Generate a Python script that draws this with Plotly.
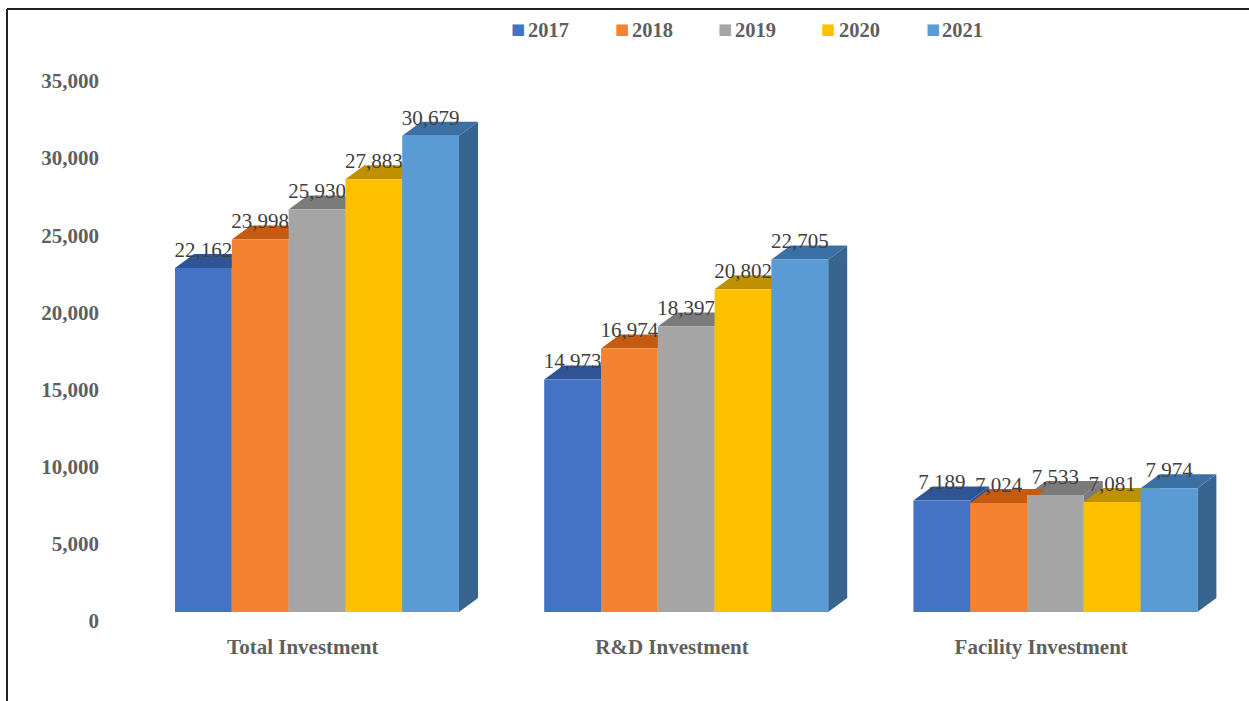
import plotly.graph_objects as go

categories = ["Total Investment", "R&D Investment", "Facility Investment"]
years = ["2017", "2018", "2019", "2020", "2021"]
v2017 = [22162, 14973, 7189]
v2018 = [23998, 16974, 7024]
v2019 = [25930, 18397, 7533]
v2020 = [27883, 20802, 7081]
v2021 = [30679, 22705, 7974]
series = [v2017, v2018, v2019, v2020, v2021]
y_ticks = [0, 5000, 10000, 15000, 20000, 25000, 30000, 35000]

front = ["#4472C4", "#F58230", "#A5A5A5", "#FFC000", "#5B9BD5"]
top = ["#2F5597", "#C55A11", "#7B7B7B", "#BF9000", "#3A70A3"]
side = ["#2F5597", "#C55A11", "#7B7B7B", "#BF9000", "#37658F"]

W, H = 1249, 701
L, R, T, B = 100, 1240, 60, 632
BAR_PX = 56.8
BAR_LEFT = 175
X0 = 612
K = 0.01552            # px per unit, bars
K_T = 0.01543          # px per unit, tick labels
TICK0 = 621
GROUP_STEP = 6.5
DX = 19 / BAR_PX
DY = 14 / K
LABEL_DY = 16.5 / K


def px_x(p):
    return (p - L) / (R - L)


def px_y(p):
    return (B - p) / (B - T)


fig = go.Figure()


def bar_x(g, i):
    return g * GROUP_STEP + i


# sides first
for i in reversed(range(len(years))):
    for g, v in enumerate(series[i]):
        x = bar_x(g, i)
        fig.add_trace(go.Scatter(
            x=[x + 1, x + 1 + DX, x + 1 + DX, x + 1, x + 1],
            y=[0, DY, v + DY, v, 0],
            mode="lines", fill="toself", fillcolor=side[i], line=dict(width=0),
            hoverinfo="skip", showlegend=False))

# then tops, right-most first
for i in reversed(range(len(years))):
    for g, v in enumerate(series[i]):
        x = bar_x(g, i)
        fig.add_trace(go.Scatter(
            x=[x, x + DX, x + 1 + DX, x + 1, x],
            y=[v, v + DY, v + DY, v, v],
            mode="lines", fill="toself", fillcolor=top[i], line=dict(width=0),
            hoverinfo="skip", showlegend=False))

# data labels
for i in range(len(years)):
    fig.add_trace(go.Scatter(
        x=[bar_x(g, i) + 0.5 for g in range(len(categories))],
        y=[v + LABEL_DY for v in series[i]],
        text=[f"{v:,}" for v in series[i]],
        mode="text", textposition="middle center",
        textfont=dict(family="Liberation Serif", size=21, color="#404040"),
        hoverinfo="skip", showlegend=False))

# front faces
for i in range(len(years)):
    for g, v in enumerate(series[i]):
        x = bar_x(g, i)
        fig.add_trace(go.Scatter(
            x=[x, x + 1, x + 1, x, x], y=[0, 0, v, v, 0],
            mode="lines", fill="toself", fillcolor=front[i], line=dict(width=0),
            name=years[i], hoverinfo="x+y", showlegend=False))

# carrier for the tick-label axis
fig.add_trace(go.Scatter(x=[None], y=[None], yaxis="y2", showlegend=False, hoverinfo="skip"))

# legend
swatch_px = [509, 613, 716, 819, 924]
text_px = [526, 630, 733, 837, 940]
for i, yr in enumerate(years):
    fig.add_annotation(
        xref="paper", yref="paper", x=px_x(swatch_px[i]), y=px_y(29),
        xanchor="left", yanchor="middle", showarrow=False, text="■",
        font=dict(family="DejaVu Sans", size=15, color=front[i]))
    fig.add_annotation(
        xref="paper", yref="paper", x=px_x(text_px[i]), y=px_y(30),
        xanchor="left", yanchor="middle", showarrow=False, text=f"<b>{yr}</b>",
        font=dict(family="Liberation Serif", size=20.5, color="#5f5f5f"))

# frame
line = dict(color="#222222", width=2)
fig.add_shape(type="line", xref="paper", yref="paper",
              x0=px_x(7), x1=px_x(1249), y0=px_y(9), y1=px_y(9), line=line)
fig.add_shape(type="line", xref="paper", yref="paper",
              x0=px_x(7), x1=px_x(7), y0=px_y(9), y1=px_y(701), line=line)

fig.update_layout(
    width=W, height=H, margin=dict(l=L, r=W - R, t=T, b=H - B),
    paper_bgcolor="white", plot_bgcolor="white", showlegend=False,
    xaxis=dict(
        range=[(L - BAR_LEFT) / BAR_PX, (R - BAR_LEFT) / BAR_PX],
        tickmode="array",
        tickvals=[g * GROUP_STEP + 2.5 - 0.25 for g in range(len(categories))],
        ticktext=[f"<b>{c}</b>" for c in categories],
        showgrid=False, zeroline=False, showline=False, ticks="", ticklen=0,
        tickfont=dict(family="Liberation Serif", size=21, color="#5f5f5f")),
    yaxis=dict(
        range=[(X0 - B) / K, (X0 - T) / K], visible=False, showgrid=False, zeroline=False),
    yaxis2=dict(
        overlaying="y", side="left",
        range=[(TICK0 - B) / K_T, (TICK0 - T) / K_T],
        tickmode="array", tickvals=y_ticks,
        ticktext=[f"<b>{t:,}</b>" for t in y_ticks],
        showgrid=False, zeroline=False, showline=False, ticks="",
        tickfont=dict(family="Liberation Serif", size=21, color="#5f5f5f")),
)

fig.write_html("out.html", config={"displayModeBar": False},
               post_script="document.body.style.margin='0';document.body.style.overflow='hidden';")
